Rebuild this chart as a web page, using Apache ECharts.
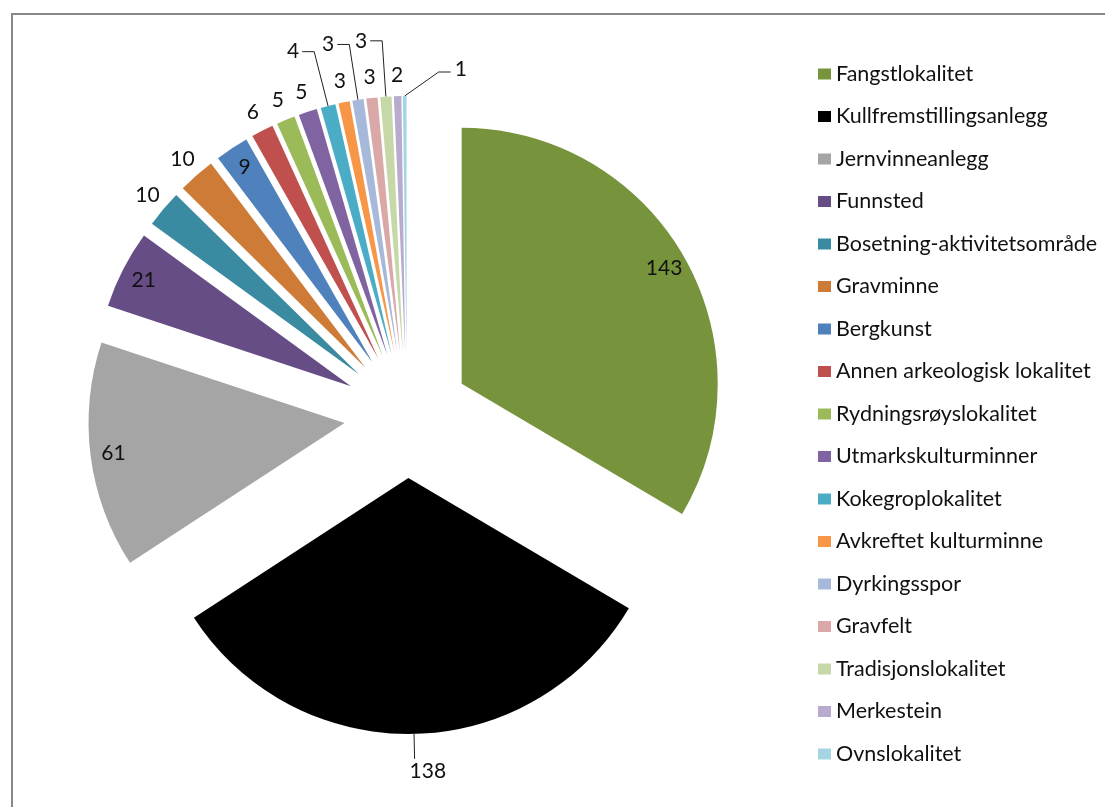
<!DOCTYPE html>
<html><head><meta charset="utf-8">
<script src="https://cdn.jsdelivr.net/npm/echarts@6/dist/echarts.min.js"></script>
<style>html,body{margin:0;padding:0;background:#fff}#c{width:1105px;height:807px}</style>
</head><body><div id="c"></div>
<script>
const categories = ['Fangstlokalitet','Kullfremstillingsanlegg','Jernvinneanlegg','Funnsted','Bosetning-aktivitetsområde','Gravminne','Bergkunst','Annen arkeologisk lokalitet','Rydningsrøyslokalitet','Utmarkskulturminner','Kokegroplokalitet','Avkreftet kulturminne','Dyrkingsspor','Gravfelt','Tradisjonslokalitet','Merkestein','Ovnslokalitet'];
const values = [143,138,61,21,10,10,9,6,5,5,4,3,3,3,3,2,1];
// how each data label is placed (style only)
const labelModes = ['in','below','in','in','out','out','in','out','out','out','leader','out','leader','out','leader','out','leaderRight'];
const colors = ['#77933C','#000000','#A5A5A5','#664D86','#3A8BA1','#CD7B37','#4F81BD','#C0504D','#9BBB59','#8064A2','#4BACC6','#F79646','#A7B9DA','#D9A8A7','#C6D8A8','#B8ABCE','#A5D5E2'];

const FONT = 'Lato';
const CX = 407, CY = 415, R = 256, OFF = 63;
const txt = {color:'#111', fontFamily:FONT, fontSize:21, formatter:'{c}'};

function base(extra){
  return Object.assign({
    type:'pie', center:[CX,CY], startAngle:90, clockwise:true,
    selectedMode:'multiple', selectedOffset:OFF, animation:false,
    emphasis:{disabled:true}, avoidLabelOverlap:false, minAngle:0,
    labelLayout:{hideOverlap:false}
  }, extra);
}
function items(fn){
  return categories.map((name,i)=>Object.assign({name, value:values[i], selected:true}, fn(i)));
}
const clear = {color:'rgba(0,0,0,0)'};

function leaderLayout(p){
  const mode = labelModes[p.dataIndex];
  const pts = p.labelLinePoints;
  const r = p.labelRect;
  if (!pts || !r) return {hideOverlap:false};
  const p0 = pts[0], p1 = pts[1];
  if (mode === 'leaderRight') {
    const q1 = [p0[0] + 34, p0[1] - 24];
    const q2 = [q1[0] + 12, q1[1]];
    return {hideOverlap:false,
            dx:(q2[0] + 4) - r.x, dy:(q2[1] - 3) - (r.y + r.height/2),
            labelLinePoints:[p0, q1, q2]};
  }
  if (mode === 'below') {
    return {hideOverlap:false,
            dx:(p1[0] - 5) - r.x, dy:(p1[1] + 2) - r.y,
            labelLinePoints:[p0, p1, p1]};
  }
  return {hideOverlap:false};
}

const option = {
  backgroundColor:'#fff',
  graphic:[{type:'rect', silent:true, shape:{x:12,y:14,width:1200,height:900},
    style:{fill:'none', stroke:'#878787', lineWidth:2}}],
  legend:{
    orient:'vertical', left:813, top:58, itemWidth:13, itemHeight:11, itemGap:20.5,
    icon:'rect', selectedMode:false,
    textStyle:{color:'#111', fontFamily:FONT, fontSize:21.5, lineHeight:20},
    itemStyle:{borderWidth:0},
    data:categories
  },
  series:[
    base({name:'main', radius:[0,R], label:{show:false}, labelLine:{show:false},
      data:items(i=>({itemStyle:{color:colors[i]}, select:{itemStyle:{color:colors[i]}}}))}),
    base({name:'inLabels', radius:[204,R], silent:true, itemStyle:clear,
      label:{show:false}, labelLine:{show:false},
      data:items(i=>({label:Object.assign({show:labelModes[i]==='in', position:'inside'}, txt)}))}),
    base({name:'outLabels', radius:[R,R+36], silent:true, itemStyle:clear,
      label:{show:false}, labelLine:{show:false},
      data:items(i=>({label:Object.assign({show:labelModes[i]==='out', position:'inside'}, txt)}))}),
    base({name:'leaderLabels', radius:[0,R], silent:true, itemStyle:clear,
      label:{show:false}, labelLine:{show:false},
      labelLayout:leaderLayout,
      data:items(i=>{
        const m = labelModes[i];
        const on = m==='leader' || m==='below' || m==='leaderRight';
        return {
          label:Object.assign({show:on, position:'outside', distanceToLabelLine:3}, txt),
          labelLine:{show:on, length: m==='below'?25:56, length2: m==='below'?0:12, smooth:false,
            lineStyle:{color:'#222', width:1}}
        };
      })})
  ]
};
const chart = echarts.init(document.getElementById('c'), null, {renderer:'canvas'});
chart.setOption(option);
</script></body></html>
